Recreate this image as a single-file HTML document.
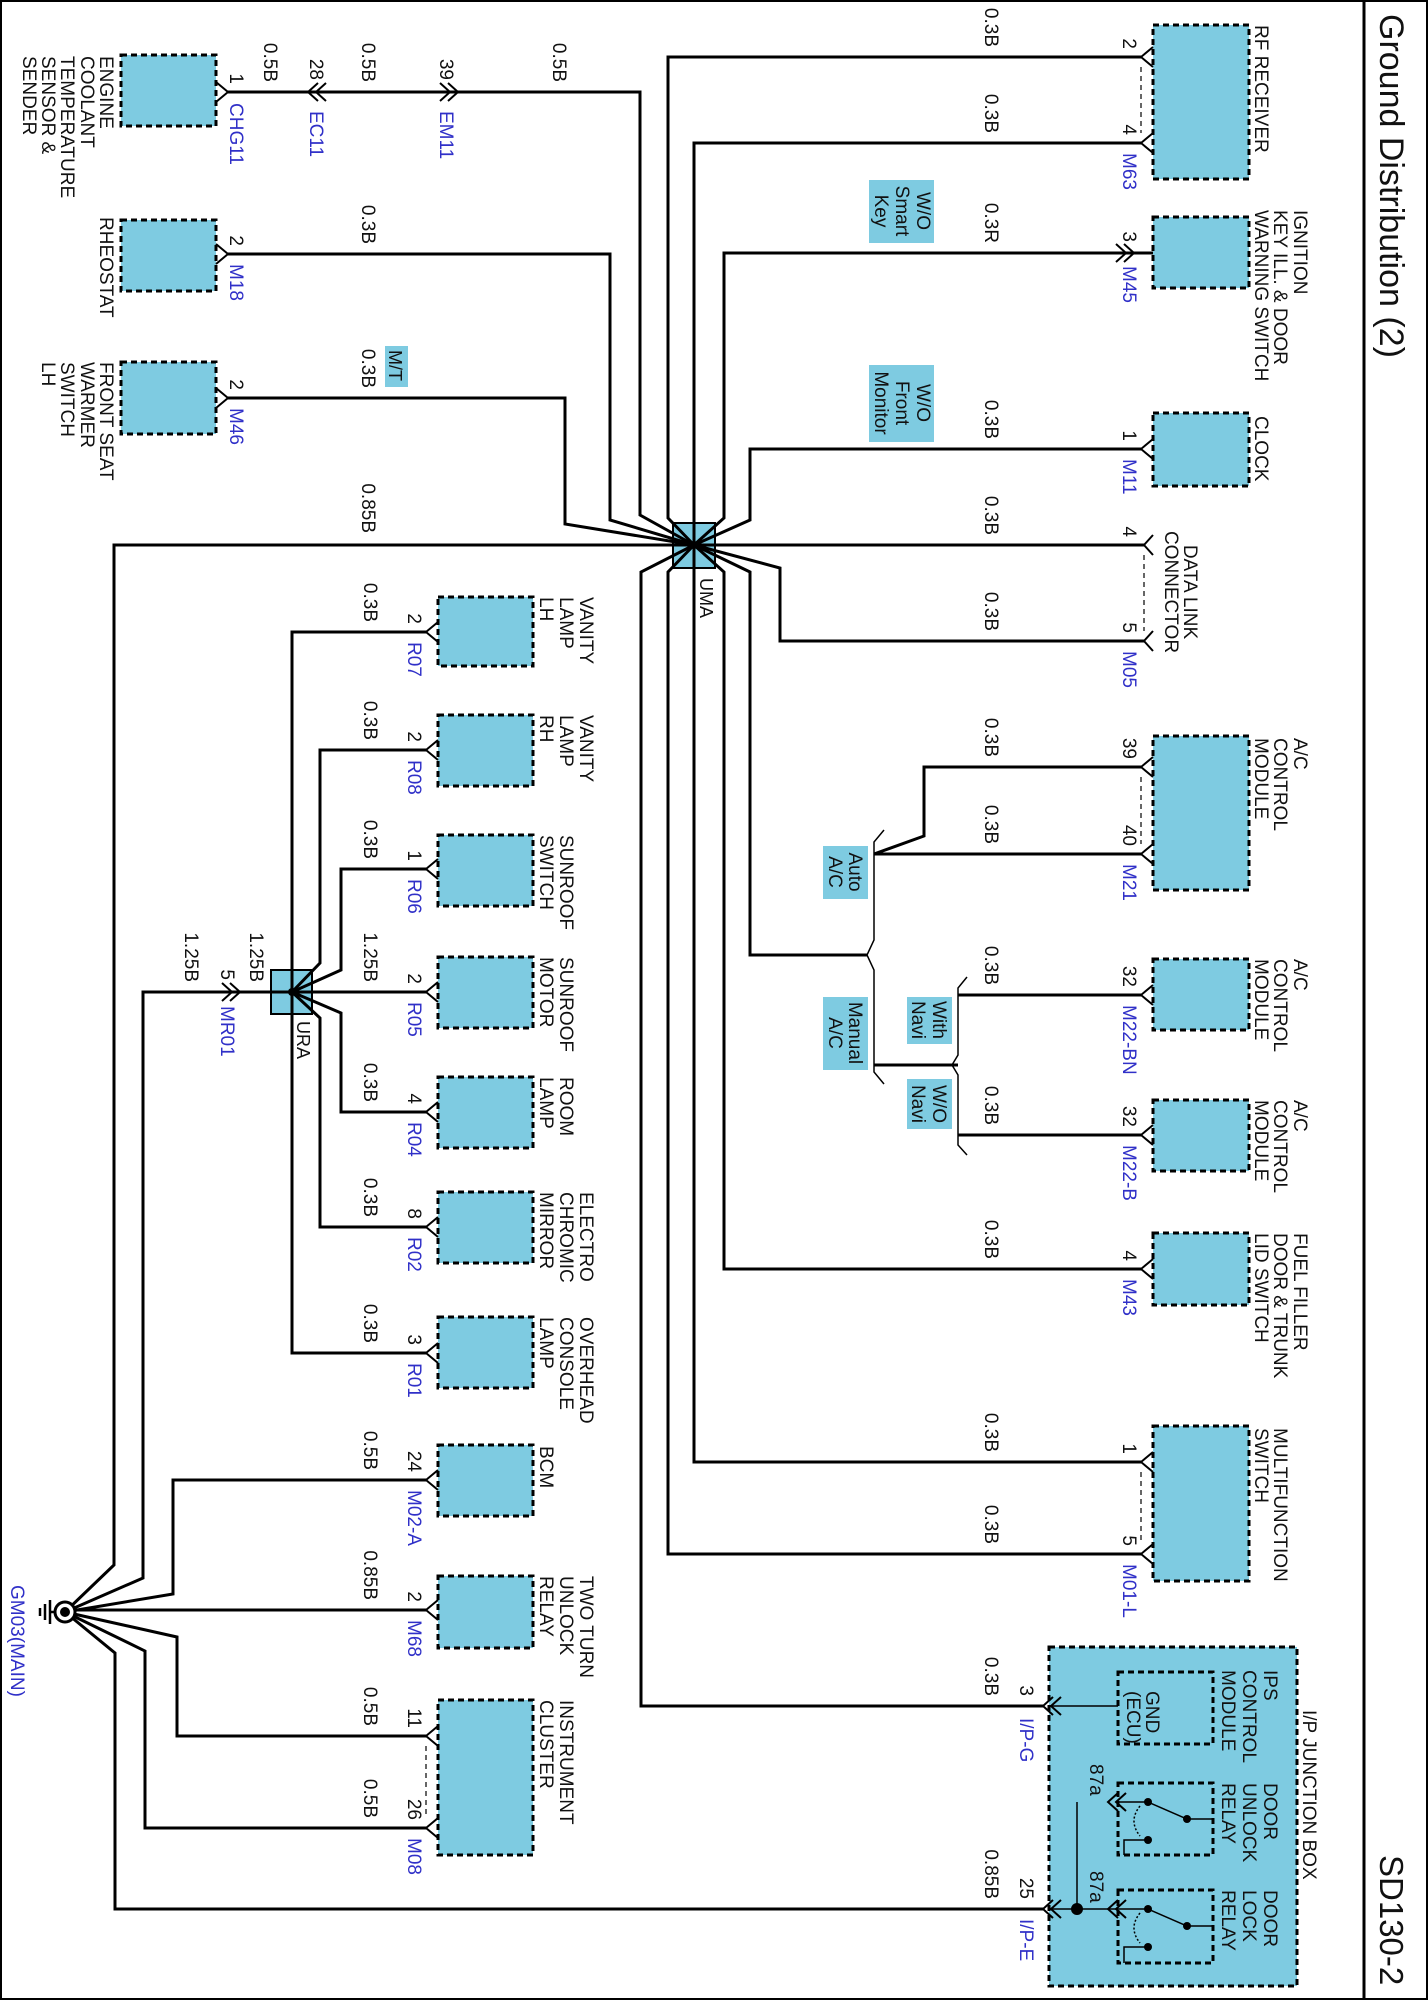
<!DOCTYPE html>
<html><head><meta charset="utf-8"><style>
html,body{margin:0;padding:0;background:#fff}
svg{display:block}
text{font-family:"Liberation Sans",sans-serif;font-size:19px;fill:#111}
.b{fill:#3030c8}.e{text-anchor:end}.m{text-anchor:middle}
.w{fill:none;stroke:#000;stroke-width:3}
.t{fill:none;stroke:#000;stroke-width:1.5}
.bx{fill:#7ecbe1;stroke:#000;stroke-width:3;stroke-dasharray:6 4}
.op{fill:#7ecbe1}
.dl{fill:none;stroke:#000;stroke-width:1.2;stroke-dasharray:5 4}
</style></head><body>
<svg width="1428" height="2000" viewBox="0 0 1428 2000" xmlns="http://www.w3.org/2000/svg">
<rect x="1" y="1" width="1426" height="1998" fill="none" stroke="#000" stroke-width="2"/>
<line x1="1364" y1="0" x2="1364" y2="2000" stroke="#000" stroke-width="3"/>
<text x="1380" y="14" transform="rotate(90 1380 14)" style="font-size:34px">Ground Distribution (2)</text>
<text x="1380" y="1855" transform="rotate(90 1380 1855)" style="font-size:33px">SD130-2</text>

<rect x="673" y="523" width="42" height="45" fill="#7ecbe1" stroke="#000" stroke-width="2"/>
<rect x="271" y="970" width="41" height="44" fill="#7ecbe1" stroke="#000" stroke-width="2"/>

<rect class="op" x="869" y="180" width="65" height="63"/>
<rect class="op" x="869" y="365" width="65" height="77"/>
<rect class="op" x="385" y="346" width="23" height="41"/>
<rect class="op" x="823" y="846" width="45" height="53"/>
<rect class="op" x="823" y="997" width="45" height="73"/>
<rect class="op" x="907" y="997" width="45" height="47"/>
<rect class="op" x="907" y="1079" width="45" height="50"/>

<rect class="bx" x="121" y="55" width="95" height="71"/>
<rect class="bx" x="121" y="220" width="95" height="71"/>
<rect class="bx" x="121" y="362" width="95" height="72"/>
<rect class="bx" x="1153" y="25" width="96" height="154"/>
<rect class="bx" x="1153" y="217" width="96" height="71"/>
<rect class="bx" x="1153" y="413" width="96" height="73"/>
<rect class="bx" x="1153" y="736" width="96" height="154"/>
<rect class="bx" x="1153" y="959" width="96" height="71"/>
<rect class="bx" x="1153" y="1100" width="96" height="71"/>
<rect class="bx" x="1153" y="1233" width="96" height="72"/>
<rect class="bx" x="1153" y="1426" width="96" height="155"/>
<rect class="bx" x="438" y="597" width="95" height="69"/>
<rect class="bx" x="438" y="715" width="95" height="71"/>
<rect class="bx" x="438" y="835" width="95" height="71"/>
<rect class="bx" x="438" y="957" width="95" height="71"/>
<rect class="bx" x="438" y="1077" width="95" height="71"/>
<rect class="bx" x="438" y="1192" width="95" height="71"/>
<rect class="bx" x="438" y="1317" width="95" height="71"/>
<rect class="bx" x="438" y="1445" width="95" height="71"/>
<rect class="bx" x="438" y="1576" width="95" height="72"/>
<rect class="bx" x="438" y="1700" width="95" height="155"/>
<rect class="bx" x="1049" y="1647" width="248" height="339"/>
<rect class="bx" x="1118" y="1672" width="95" height="72"/>
<rect class="bx" x="1118" y="1783" width="95" height="72"/>
<rect class="bx" x="1118" y="1890" width="95" height="73"/>

<g class="w">
<path d="M228,92 H640 V515 L694,545"/>
<path d="M228,254 H610 V520 L694,545"/>
<path d="M228,398 H565 V524 L694,545"/>
<path d="M694,545 H114 V1565 L65,1612"/>
<path d="M1141,57 H668 V518 L694,545"/>
<path d="M1141,143 H694 V545"/>
<path d="M1153,253 H724 V518 L694,545"/>
<path d="M1141,449 H750 V520 L694,545"/>
<path d="M1144,545 H694"/>
<path d="M1144,641 H780 V568 L694,545"/>
<path d="M694,545 L641,572 V1706 H1043"/>
<path d="M694,545 L668,572 V1554 H1141"/>
<path d="M694,545 V1462 H1141"/>
<path d="M694,545 L724,572 V1269 H1141"/>
<path d="M694,545 L750,572 V955 H867"/>
<path d="M1141,767 H924 V836 L874,854"/>
<path d="M1141,854 H874"/>
<path d="M874,1065 H958"/>
<path d="M958,995 H1141"/>
<path d="M958,1135 H1141"/>
<path d="M426,632 H292 V1353 H426"/>
<path d="M426,750 H320 V963 L292,992"/>
<path d="M426,869 H341 V970 L292,992"/>
<path d="M426,992 H292"/>
<path d="M426,1112 H341 V1013 L292,992"/>
<path d="M426,1227 H320 V1018 L292,992"/>
<path d="M292,992 H143 V1578 L65,1612"/>
<path d="M426,1480 H173 V1594 L65,1612"/>
<path d="M426,1610 H65"/>
<path d="M426,1736 H177 V1637 L65,1612"/>
<path d="M426,1828 H145 V1651 L65,1612"/>
<path d="M65,1612 L115,1653 V1909 H1043"/>
</g>
<circle cx="694" cy="545" r="4"/>
<circle cx="292" cy="992" r="4"/>

<g class="t">
<path d="M884,830 L874,842 V940 L867,955 L874,970 V1072 L884,1084"/>
<path d="M967,977 L958,988 V1055 L952,1065 L958,1075 V1145 L967,1155"/>
</g>

<g class="t" style="stroke-width:2">
<path d="M216,82 L228,92 L216,102"/><path d="M216,244 L228,254 L216,264"/><path d="M216,388 L228,398 L216,408"/>
<path d="M1153,47 L1141,57 L1153,67"/><path d="M1153,133 L1141,143 L1153,153"/>
<path d="M1153,439 L1141,449 L1153,459"/>
<path d="M1153,535 L1144,545 L1153,555"/><path d="M1153,631 L1144,641 L1153,651"/>
<path d="M1153,757 L1141,767 L1153,777"/><path d="M1153,844 L1141,854 L1153,864"/>
<path d="M1153,985 L1141,995 L1153,1005"/><path d="M1153,1125 L1141,1135 L1153,1145"/>
<path d="M1153,1259 L1141,1269 L1153,1279"/>
<path d="M1153,1452 L1141,1462 L1153,1472"/><path d="M1153,1544 L1141,1554 L1153,1564"/>
<path d="M438,622 L426,632 L438,642"/><path d="M438,740 L426,750 L438,760"/><path d="M438,859 L426,869 L438,879"/>
<path d="M438,982 L426,992 L438,1002"/><path d="M438,1102 L426,1112 L438,1122"/><path d="M438,1217 L426,1227 L438,1237"/>
<path d="M438,1343 L426,1353 L438,1363"/><path d="M438,1470 L426,1480 L438,1490"/><path d="M438,1600 L426,1610 L438,1620"/>
<path d="M438,1726 L426,1736 L438,1746"/><path d="M438,1818 L426,1828 L438,1838"/>
<path d="M318,83 L308,92 L318,101 M326,83 L316,92 L326,101"/>
<path d="M440,83 L450,92 L440,101 M448,83 L458,92 L448,101"/>
<path d="M1116,244 L1126,253 L1116,262 M1124,244 L1134,253 L1124,262"/>
<path d="M222,983 L232,992 L222,1001 M230,983 L240,992 L230,1001"/>
<path d="M1053,1697 L1043,1706 L1053,1715 M1061,1697 L1051,1706 L1061,1715"/>
<path d="M1053,1900 L1043,1909 L1053,1918 M1061,1900 L1051,1909 L1061,1918"/>
<path d="M1118,1793 L1108,1802 L1118,1811 M1126,1793 L1116,1802 L1126,1811"/>
<path d="M1118,1900 L1108,1909 L1118,1918 M1126,1900 L1116,1909 L1126,1918"/>
</g>
<g class="dl">
<path d="M1141,67 V133"/><path d="M1144,555 V631"/><path d="M1141,777 V844"/><path d="M1141,1472 V1544"/><path d="M426,1746 V1818"/>
</g>

<g class="t">
<path d="M1118,1706 H1051"/>
<path d="M1051,1909 H1148"/>
<path d="M1077,1802 V1909"/>
<path d="M1116,1802 H1148"/>
<path d="M1148,1802 L1187,1819 M1187,1819 H1213 M1148,1840 H1124 V1855"/>
<path d="M1148,1909 L1187,1926 M1187,1926 H1213 M1148,1947 H1124 V1963"/>
<path d="M1140,1806 Q1128,1821 1140,1836 M1140,1913 Q1128,1928 1140,1943" stroke-dasharray="2 2"/>
</g>
<circle cx="1077" cy="1909" r="6"/>
<circle cx="1148" cy="1802" r="4"/><circle cx="1187" cy="1819" r="4"/><circle cx="1148" cy="1840" r="4"/>
<circle cx="1148" cy="1909" r="4"/><circle cx="1187" cy="1926" r="4"/><circle cx="1148" cy="1947" r="4"/>

<circle cx="65" cy="1612" r="10" fill="#fff" stroke="#000" stroke-width="3"/>
<circle cx="65" cy="1612" r="5"/>
<g stroke="#000" stroke-width="2.5"><line x1="55" y1="1612" x2="50" y2="1612"/><line x1="50" y1="1600" x2="50" y2="1624"/><line x1="45" y1="1604" x2="45" y2="1620"/><line x1="40" y1="1608" x2="40" y2="1616"/></g>

<g>
<text x="100" y="56" transform="rotate(90 100 56)">ENGINE</text>
<text x="81" y="56" transform="rotate(90 81 56)">COOLANT</text>
<text x="61" y="56" transform="rotate(90 61 56)">TEMPERATURE</text>
<text x="42" y="56" transform="rotate(90 42 56)">SENSOR &amp;</text>
<text x="23" y="56" transform="rotate(90 23 56)">SENDER</text>
<text x="100" y="217" transform="rotate(90 100 217)">RHEOSTAT</text>
<text x="100" y="362" transform="rotate(90 100 362)">FRONT SEAT</text>
<text x="81" y="362" transform="rotate(90 81 362)">WARMER</text>
<text x="61" y="362" transform="rotate(90 61 362)">SWITCH</text>
<text x="42" y="362" transform="rotate(90 42 362)">LH</text>
<text class="e" x="230" y="84" transform="rotate(90 230 84)">1</text>
<text class="b" x="230" y="103" transform="rotate(90 230 103)">CHG11</text>
<text class="e" x="310" y="80" transform="rotate(90 310 80)">28</text>
<text class="b" x="310" y="111" transform="rotate(90 310 111)">EC11</text>
<text class="e" x="440" y="80" transform="rotate(90 440 80)">39</text>
<text class="b" x="440" y="111" transform="rotate(90 440 111)">EM11</text>
<text class="e" x="264" y="82" transform="rotate(90 264 82)">0.5B</text>
<text class="e" x="362" y="82" transform="rotate(90 362 82)">0.5B</text>
<text class="e" x="553" y="82" transform="rotate(90 553 82)">0.5B</text>
<text class="e" x="230" y="246" transform="rotate(90 230 246)">2</text>
<text class="b" x="230" y="264" transform="rotate(90 230 264)">M18</text>
<text class="e" x="362" y="244" transform="rotate(90 362 244)">0.3B</text>
<text class="e" x="230" y="390" transform="rotate(90 230 390)">2</text>
<text class="b" x="230" y="408" transform="rotate(90 230 408)">M46</text>
<text class="e" x="362" y="388" transform="rotate(90 362 388)">0.3B</text>
<text x="389" y="350" transform="rotate(90 389 350)" style="font-size:18px">M/T</text>
<text class="e" x="362" y="533" transform="rotate(90 362 533)">0.85B</text>
<text x="700" y="578" transform="rotate(90 700 578)" style="font-size:18px">UMA</text>

<text x="1255" y="25" transform="rotate(90 1255 25)">RF RECEIVER</text>
<text x="1294" y="210" transform="rotate(90 1294 210)">IGNITION</text>
<text x="1274" y="210" transform="rotate(90 1274 210)">KEY ILL. &amp; DOOR</text>
<text x="1255" y="210" transform="rotate(90 1255 210)">WARNING SWITCH</text>
<text x="1255" y="416" transform="rotate(90 1255 416)">CLOCK</text>
<text class="m" x="1184" y="592" transform="rotate(90 1184 592)">DATA LINK</text>
<text class="m" x="1165" y="592" transform="rotate(90 1165 592)">CONNECTOR</text>
<text x="1294" y="738" transform="rotate(90 1294 738)">A/C</text>
<text x="1274" y="738" transform="rotate(90 1274 738)">CONTROL</text>
<text x="1255" y="738" transform="rotate(90 1255 738)">MODULE</text>
<text x="1294" y="959" transform="rotate(90 1294 959)">A/C</text>
<text x="1274" y="959" transform="rotate(90 1274 959)">CONTROL</text>
<text x="1255" y="959" transform="rotate(90 1255 959)">MODULE</text>
<text x="1294" y="1100" transform="rotate(90 1294 1100)">A/C</text>
<text x="1274" y="1100" transform="rotate(90 1274 1100)">CONTROL</text>
<text x="1255" y="1100" transform="rotate(90 1255 1100)">MODULE</text>
<text x="1294" y="1233" transform="rotate(90 1294 1233)">FUEL FILLER</text>
<text x="1274" y="1233" transform="rotate(90 1274 1233)">DOOR &amp; TRUNK</text>
<text x="1255" y="1233" transform="rotate(90 1255 1233)">LID SWITCH</text>
<text x="1274" y="1428" transform="rotate(90 1274 1428)">MULTIFUNCTION</text>
<text x="1255" y="1428" transform="rotate(90 1255 1428)">SWITCH</text>

<text class="e" x="1123" y="49" transform="rotate(90 1123 49)">2</text>
<text class="e" x="1123" y="135" transform="rotate(90 1123 135)">4</text>
<text class="b" x="1123" y="153" transform="rotate(90 1123 153)">M63</text>
<text class="e" x="1123" y="242" transform="rotate(90 1123 242)">3</text>
<text class="b" x="1123" y="266" transform="rotate(90 1123 266)">M45</text>
<text class="e" x="1123" y="441" transform="rotate(90 1123 441)">1</text>
<text class="b" x="1123" y="459" transform="rotate(90 1123 459)">M11</text>
<text class="e" x="1123" y="537" transform="rotate(90 1123 537)">4</text>
<text class="e" x="1123" y="633" transform="rotate(90 1123 633)">5</text>
<text class="b" x="1123" y="651" transform="rotate(90 1123 651)">M05</text>
<text class="e" x="1123" y="759" transform="rotate(90 1123 759)">39</text>
<text class="e" x="1123" y="846" transform="rotate(90 1123 846)">40</text>
<text class="b" x="1123" y="864" transform="rotate(90 1123 864)">M21</text>
<text class="e" x="1123" y="987" transform="rotate(90 1123 987)">32</text>
<text class="b" x="1123" y="1005" transform="rotate(90 1123 1005)">M22-BN</text>
<text class="e" x="1123" y="1127" transform="rotate(90 1123 1127)">32</text>
<text class="b" x="1123" y="1145" transform="rotate(90 1123 1145)">M22-B</text>
<text class="e" x="1123" y="1261" transform="rotate(90 1123 1261)">4</text>
<text class="b" x="1123" y="1279" transform="rotate(90 1123 1279)">M43</text>
<text class="e" x="1123" y="1454" transform="rotate(90 1123 1454)">1</text>
<text class="e" x="1123" y="1546" transform="rotate(90 1123 1546)">5</text>
<text class="b" x="1123" y="1564" transform="rotate(90 1123 1564)">M01-L</text>

<text class="e" x="985" y="47" transform="rotate(90 985 47)">0.3B</text>
<text class="e" x="985" y="133" transform="rotate(90 985 133)">0.3B</text>
<text class="e" x="985" y="243" transform="rotate(90 985 243)">0.3R</text>
<text class="e" x="985" y="439" transform="rotate(90 985 439)">0.3B</text>
<text class="e" x="985" y="535" transform="rotate(90 985 535)">0.3B</text>
<text class="e" x="985" y="631" transform="rotate(90 985 631)">0.3B</text>
<text class="e" x="985" y="757" transform="rotate(90 985 757)">0.3B</text>
<text class="e" x="985" y="844" transform="rotate(90 985 844)">0.3B</text>
<text class="e" x="985" y="985" transform="rotate(90 985 985)">0.3B</text>
<text class="e" x="985" y="1125" transform="rotate(90 985 1125)">0.3B</text>
<text class="e" x="985" y="1259" transform="rotate(90 985 1259)">0.3B</text>
<text class="e" x="985" y="1452" transform="rotate(90 985 1452)">0.3B</text>
<text class="e" x="985" y="1544" transform="rotate(90 985 1544)">0.3B</text>
<text class="e" x="985" y="1696" transform="rotate(90 985 1696)">0.3B</text>
<text class="e" x="985" y="1899" transform="rotate(90 985 1899)">0.85B</text>

<text class="m" x="917" y="211" transform="rotate(90 917 211)">W/O</text>
<text class="m" x="896" y="211" transform="rotate(90 896 211)">Smart</text>
<text class="m" x="875" y="211" transform="rotate(90 875 211)">Key</text>
<text class="m" x="917" y="403" transform="rotate(90 917 403)">W/O</text>
<text class="m" x="896" y="403" transform="rotate(90 896 403)">Front</text>
<text class="m" x="875" y="403" transform="rotate(90 875 403)">Monitor</text>
<text class="m" x="849" y="872" transform="rotate(90 849 872)">Auto</text>
<text class="m" x="829" y="872" transform="rotate(90 829 872)">A/C</text>
<text class="m" x="849" y="1033" transform="rotate(90 849 1033)">Manual</text>
<text class="m" x="829" y="1033" transform="rotate(90 829 1033)">A/C</text>
<text class="m" x="933" y="1020" transform="rotate(90 933 1020)">With</text>
<text class="m" x="912" y="1020" transform="rotate(90 912 1020)">Navi</text>
<text class="m" x="933" y="1104" transform="rotate(90 933 1104)">W/O</text>
<text class="m" x="912" y="1104" transform="rotate(90 912 1104)">Navi</text>

<text x="580" y="597" transform="rotate(90 580 597)">VANITY</text>
<text x="560" y="597" transform="rotate(90 560 597)">LAMP</text>
<text x="540" y="597" transform="rotate(90 540 597)">LH</text>
<text x="580" y="715" transform="rotate(90 580 715)">VANITY</text>
<text x="560" y="715" transform="rotate(90 560 715)">LAMP</text>
<text x="540" y="715" transform="rotate(90 540 715)">RH</text>
<text x="560" y="835" transform="rotate(90 560 835)">SUNROOF</text>
<text x="540" y="835" transform="rotate(90 540 835)">SWITCH</text>
<text x="560" y="957" transform="rotate(90 560 957)">SUNROOF</text>
<text x="540" y="957" transform="rotate(90 540 957)">MOTOR</text>
<text x="560" y="1077" transform="rotate(90 560 1077)">ROOM</text>
<text x="540" y="1077" transform="rotate(90 540 1077)">LAMP</text>
<text x="580" y="1192" transform="rotate(90 580 1192)">ELECTRO</text>
<text x="560" y="1192" transform="rotate(90 560 1192)">CHROMIC</text>
<text x="540" y="1192" transform="rotate(90 540 1192)">MIRROR</text>
<text x="580" y="1317" transform="rotate(90 580 1317)">OVERHEAD</text>
<text x="560" y="1317" transform="rotate(90 560 1317)">CONSOLE</text>
<text x="540" y="1317" transform="rotate(90 540 1317)">LAMP</text>
<text x="540" y="1446" transform="rotate(90 540 1446)">BCM</text>
<text x="580" y="1576" transform="rotate(90 580 1576)">TWO TURN</text>
<text x="560" y="1576" transform="rotate(90 560 1576)">UNLOCK</text>
<text x="540" y="1576" transform="rotate(90 540 1576)">RELAY</text>
<text x="560" y="1700" transform="rotate(90 560 1700)">INSTRUMENT</text>
<text x="540" y="1700" transform="rotate(90 540 1700)">CLUSTER</text>

<text class="e" x="408" y="624" transform="rotate(90 408 624)">2</text>
<text class="b" x="408" y="642" transform="rotate(90 408 642)">R07</text>
<text class="e" x="408" y="742" transform="rotate(90 408 742)">2</text>
<text class="b" x="408" y="760" transform="rotate(90 408 760)">R08</text>
<text class="e" x="408" y="861" transform="rotate(90 408 861)">1</text>
<text class="b" x="408" y="879" transform="rotate(90 408 879)">R06</text>
<text class="e" x="408" y="984" transform="rotate(90 408 984)">2</text>
<text class="b" x="408" y="1002" transform="rotate(90 408 1002)">R05</text>
<text class="e" x="408" y="1104" transform="rotate(90 408 1104)">4</text>
<text class="b" x="408" y="1122" transform="rotate(90 408 1122)">R04</text>
<text class="e" x="408" y="1219" transform="rotate(90 408 1219)">8</text>
<text class="b" x="408" y="1237" transform="rotate(90 408 1237)">R02</text>
<text class="e" x="408" y="1345" transform="rotate(90 408 1345)">3</text>
<text class="b" x="408" y="1363" transform="rotate(90 408 1363)">R01</text>
<text class="e" x="408" y="1472" transform="rotate(90 408 1472)">24</text>
<text class="b" x="408" y="1490" transform="rotate(90 408 1490)">M02-A</text>
<text class="e" x="408" y="1602" transform="rotate(90 408 1602)">2</text>
<text class="b" x="408" y="1620" transform="rotate(90 408 1620)">M68</text>
<text class="e" x="408" y="1728" transform="rotate(90 408 1728)">11</text>
<text class="e" x="408" y="1820" transform="rotate(90 408 1820)">26</text>
<text class="b" x="408" y="1838" transform="rotate(90 408 1838)">M08</text>

<text class="e" x="364" y="622" transform="rotate(90 364 622)">0.3B</text>
<text class="e" x="364" y="740" transform="rotate(90 364 740)">0.3B</text>
<text class="e" x="364" y="859" transform="rotate(90 364 859)">0.3B</text>
<text class="e" x="364" y="982" transform="rotate(90 364 982)">1.25B</text>
<text class="e" x="364" y="1102" transform="rotate(90 364 1102)">0.3B</text>
<text class="e" x="364" y="1217" transform="rotate(90 364 1217)">0.3B</text>
<text class="e" x="364" y="1343" transform="rotate(90 364 1343)">0.3B</text>
<text class="e" x="364" y="1470" transform="rotate(90 364 1470)">0.5B</text>
<text class="e" x="364" y="1600" transform="rotate(90 364 1600)">0.85B</text>
<text class="e" x="364" y="1726" transform="rotate(90 364 1726)">0.5B</text>
<text class="e" x="364" y="1818" transform="rotate(90 364 1818)">0.5B</text>

<text class="e" x="250" y="982" transform="rotate(90 250 982)">1.25B</text>
<text class="e" x="185" y="982" transform="rotate(90 185 982)">1.25B</text>
<text class="e" x="221" y="980" transform="rotate(90 221 980)">5</text>
<text class="b" x="221" y="1006" transform="rotate(90 221 1006)">MR01</text>
<text x="297" y="1021" transform="rotate(90 297 1021)" style="font-size:18px">URA</text>
<text class="b" x="11" y="1585" transform="rotate(90 11 1585)">GM03(MAIN)</text>

<text x="1303" y="1710" transform="rotate(90 1303 1710)">I/P JUNCTION BOX</text>
<text x="1264" y="1670" transform="rotate(90 1264 1670)">IPS</text>
<text x="1243" y="1670" transform="rotate(90 1243 1670)">CONTROL</text>
<text x="1222" y="1670" transform="rotate(90 1222 1670)">MODULE</text>
<text x="1146" y="1691" transform="rotate(90 1146 1691)">GND</text>
<text x="1127" y="1691" transform="rotate(90 1127 1691)">(ECU)</text>
<text x="1264" y="1783" transform="rotate(90 1264 1783)">DOOR</text>
<text x="1243" y="1783" transform="rotate(90 1243 1783)">UNLOCK</text>
<text x="1222" y="1783" transform="rotate(90 1222 1783)">RELAY</text>
<text x="1264" y="1890" transform="rotate(90 1264 1890)">DOOR</text>
<text x="1243" y="1890" transform="rotate(90 1243 1890)">LOCK</text>
<text x="1222" y="1890" transform="rotate(90 1222 1890)">RELAY</text>
<text x="1090" y="1764" transform="rotate(90 1090 1764)">87a</text>
<text x="1090" y="1871" transform="rotate(90 1090 1871)">87a</text>
<text class="e" x="1020" y="1696" transform="rotate(90 1020 1696)">3</text>
<text class="b" x="1020" y="1718" transform="rotate(90 1020 1718)">I/P-G</text>
<text class="e" x="1020" y="1899" transform="rotate(90 1020 1899)">25</text>
<text class="b" x="1020" y="1919" transform="rotate(90 1020 1919)">I/P-E</text>
</g>
</svg>
</body></html>
